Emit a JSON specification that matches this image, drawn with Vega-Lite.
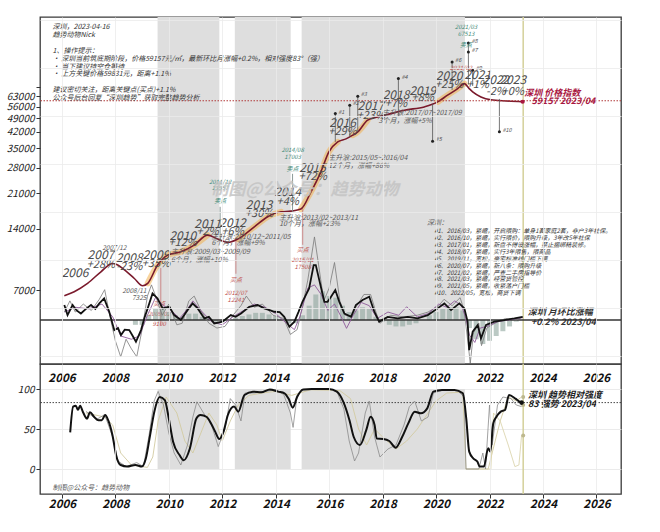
{
"$schema": "https://vega.github.io/schema/vega-lite/v6.json",
"padding": {"left": 5, "top": 15, "right": 5, "bottom": 5},
"background": "white",
"config": {
  "font": "Noto Sans CJK SC",
  "view": {"stroke": "#3a3a3a", "strokeWidth": 1.3},
  "axis": {"labelFont": "Noto Sans CJK SC", "gridColor": "#e6e6e6", "gridWidth": 0.8}
},
"datasets": {
  "bands": [{"t":2009.58,"t2":2011.89},{"t":2012.47,"t2":2014.56},{"t":2014.97,"t2":2021.08}],
  "price": [
    {"t":2006.09,"p":6560},{"t":2006.46,"p":6870},{"t":2006.96,"p":7550},{"t":2007.46,"p":8610},{"t":2007.9,"p":9460},{"t":2008.05,"p":9350},{"t":2008.27,"p":8940},{"t":2008.71,"p":7980},{"t":2009.02,"p":7350},{"t":2009.21,"p":7550},{"t":2009.58,"p":9290},{"t":2009.96,"p":10400},{"t":2010.45,"p":10800},{"t":2010.95,"p":11650},{"t":2011.45,"p":13050},{"t":2011.83,"p":12470},{"t":2012.2,"p":12010},{"t":2012.58,"p":12470},{"t":2013.2,"p":14330},{"t":2013.7,"p":16060},{"t":2014.2,"p":16990},{"t":2014.57,"p":17120},{"t":2014.94,"p":17520},{"t":2015.32,"p":21310},{"t":2015.69,"p":26730},{"t":2015.99,"p":33520},{"t":2016.32,"p":37540},{"t":2016.63,"p":38830},{"t":2016.88,"p":40500},{"t":2017.07,"p":42050},{"t":2017.44,"p":48010},{"t":2017.82,"p":49840},{"t":2018.31,"p":51720},{"t":2018.81,"p":53750},{"t":2019.56,"p":55800},{"t":2020.06,"p":59050},{"t":2020.43,"p":63730},{"t":2020.81,"p":68660},{"t":2021.06,"p":72680},{"t":2021.24,"p":68660},{"t":2021.37,"p":66150},{"t":2021.68,"p":62500},{"t":2022.06,"p":60500},{"t":2022.62,"p":59700},{"t":2023.24,"p":59157}
  ],
  "hl": [
    {"seg":"A","t":2009.21,"p":7550},{"seg":"A","t":2009.58,"p":9290},{"seg":"A","t":2009.96,"p":10400},{"seg":"A","t":2010.45,"p":10800},{"seg":"A","t":2010.95,"p":11650},{"seg":"A","t":2011.45,"p":13050},
    {"seg":"B","t":2012.58,"p":12470},{"seg":"B","t":2013.2,"p":14330},{"seg":"B","t":2013.7,"p":16060},{"seg":"B","t":2014.2,"p":16990},
    {"seg":"C","t":2014.94,"p":17520},{"seg":"C","t":2015.32,"p":21310},{"seg":"C","t":2015.69,"p":26730},{"seg":"C","t":2015.99,"p":33520},{"seg":"C","t":2016.32,"p":37540},
    {"seg":"D","t":2016.88,"p":40500},{"seg":"D","t":2017.07,"p":42050},{"seg":"D","t":2017.44,"p":48010},
    {"seg":"E","t":2020.06,"p":59050},{"seg":"E","t":2020.43,"p":63730},{"seg":"E","t":2020.81,"p":68660},{"seg":"E","t":2021.06,"p":72680}
  ],
  "sig": [
    {"t":2011.92,"p":17980,"p2":12100,"kind":"sell"},
    {"t":2014.63,"p":26130,"p2":16990,"kind":"sell"},
    {"t":2012.51,"p":12200,"p2":8420,"kind":"buy"},
    {"t":2015.01,"p":17500,"p2":11690,"kind":"buy"},
    {"t":2009.7,"p":9000,"p2":4700,"kind":"buy"}
  ],
  "pol": [
    {"t":2016.23,"p":51720,"p2":37550,"lab":"#1"},
    {"t":2016.77,"p":56900,"p2":39730,"lab":"#2"},
    {"t":2017.07,"p":63000,"p2":42050,"lab":"#3"},
    {"t":2018.59,"p":76900,"p2":50060,"lab":"#4"},
    {"t":2019.87,"p":37840,"p2":57740,"lab":"#5"},
    {"t":2020.6,"p":92900,"p2":67650,"lab":"#6"},
    {"t":2021.21,"p":104100,"p2":72000,"lab":"#7"},
    {"t":2021.21,"p":115200,"p2":104100,"lab":"#8"},
    {"t":2021.37,"p":84600,"p2":70720,"lab":"#9"},
    {"t":2022.37,"p":42050,"p2":61100,"lab":"#10"}
  ],
  "ann": [
    {"t":2006.49,"p":8450,"txt":"2006","k":"yr"},
    {"t":2007.46,"p":10400,"txt":"2007","k":"yr"},
    {"t":2008.52,"p":10090,"txt":"2008","k":"yr"},
    {"t":2009.52,"p":10470,"txt":"2009","k":"yr"},
    {"t":2010.52,"p":12950,"txt":"2010","k":"yr"},
    {"t":2011.45,"p":14880,"txt":"2011","k":"yr"},
    {"t":2012.39,"p":15000,"txt":"2012","k":"yr"},
    {"t":2013.38,"p":18330,"txt":"2013","k":"yr"},
    {"t":2014.45,"p":21150,"txt":"2014","k":"yr"},
    {"t":2015.38,"p":27970,"txt":"2015","k":"yr"},
    {"t":2016.5,"p":46560,"txt":"2016","k":"yr"},
    {"t":2017.56,"p":56260,"txt":"2017","k":"yr"},
    {"t":2018.5,"p":63730,"txt":"2018","k":"yr"},
    {"t":2019.5,"p":66670,"txt":"2019","k":"yr"},
    {"t":2020.49,"p":79260,"txt":"2020","k":"yr"},
    {"t":2021.56,"p":80480,"txt":"2021","k":"yr"},
    {"t":2022.24,"p":75540,"txt":"2022","k":"yr"},
    {"t":2022.87,"p":75540,"txt":"2023","k":"yr"},
    {"t":2007.46,"p":9350,"txt":"+28%","k":"pct"},
    {"t":2008.52,"p":9040,"txt":"-23%","k":"pct"},
    {"t":2009.52,"p":9390,"txt":"+35%","k":"pct"},
    {"t":2010.52,"p":11870,"txt":"+12%","k":"pct"},
    {"t":2011.45,"p":13540,"txt":"+2%","k":"pct"},
    {"t":2012.39,"p":13540,"txt":"+6%","k":"pct"},
    {"t":2013.38,"p":16560,"txt":"+30%","k":"pct"},
    {"t":2014.45,"p":19030,"txt":"+4%","k":"pct"},
    {"t":2015.38,"p":25260,"txt":"+72%","k":"pct"},
    {"t":2016.5,"p":42050,"txt":"+29%","k":"pct"},
    {"t":2017.56,"p":50390,"txt":"+23%","k":"pct"},
    {"t":2018.5,"p":57940,"txt":"+7%","k":"pct"},
    {"t":2019.5,"p":61610,"txt":"+8%","k":"pct"},
    {"t":2020.49,"p":71330,"txt":"+25%","k":"pct"},
    {"t":2021.56,"p":71330,"txt":"+1%","k":"pct"},
    {"t":2022.24,"p":66150,"txt":"-2%","k":"pct"},
    {"t":2022.87,"p":66150,"txt":"+0%","k":"pct"},
    {"t":2010.08,"p":10715,"txt":"主升浪:2009/03~2009/09","k":"note"},
    {"t":2010.08,"p":9835,"txt":"6个月，涨幅+10%","k":"note"},
    {"t":2011.6,"p":12810,"txt":"主升浪:2010/12~2011/05","k":"note"},
    {"t":2011.6,"p":11950,"txt":"6个月，涨幅+9%","k":"note"},
    {"t":2014.13,"p":15880,"txt":"主升浪:2013/02~2013/11","k":"note"},
    {"t":2014.13,"p":14780,"txt":"10个月，涨幅+23%","k":"note"},
    {"t":2015.97,"p":31420,"txt":"主升浪:2015/05~2016/04","k":"note"},
    {"t":2015.97,"p":28610,"txt":"12个月，涨幅+86%","k":"note"},
    {"t":2018.0,"p":52310,"txt":"主升浪:2017/07~2017/09","k":"note"},
    {"t":2017.85,"p":47610,"txt":"3个月，涨幅+5%","k":"note"},
    {"t":2019.66,"p":15050,"txt":"深圳：","k":"note"},
    {"t":2007.96,"p":11300,"txt":"2007/12","k":"notec"},
    {"t":2008.71,"p":6920,"txt":"2008/11","k":"notec"},
    {"t":2008.89,"p":6365,"txt":"7325","k":"notec"},
    {"t":2009.64,"p":5946,"txt":"买点","k":"red"},
    {"t":2009.64,"p":5310,"txt":"2009/02","k":"red"},
    {"t":2009.64,"p":4742,"txt":"9100","k":"red"},
    {"t":2012.51,"p":7840,"txt":"买点","k":"red"},
    {"t":2012.51,"p":6735,"txt":"2012/07","k":"red"},
    {"t":2012.51,"p":6250,"txt":"12241","k":"red"},
    {"t":2015.01,"p":11010,"txt":"买点","k":"red"},
    {"t":2015.01,"p":9835,"txt":"2015/01","k":"red"},
    {"t":2015.01,"p":9115,"txt":"17508","k":"red"},
    {"t":2020.93,"p":87100,"txt":"2021/02","k":"red"},
    {"t":2011.92,"p":23870,"txt":"2011/12","k":"green"},
    {"t":2011.92,"p":22380,"txt":"11957","k":"green"},
    {"t":2011.92,"p":19190,"txt":"卖点","k":"green"},
    {"t":2014.63,"p":34180,"txt":"2014/08","k":"green"},
    {"t":2014.63,"p":31680,"txt":"17003","k":"green"},
    {"t":2014.63,"p":27560,"txt":"卖点","k":"green"},
    {"t":2021.12,"p":138100,"txt":"2021/03","k":"green"},
    {"t":2021.12,"p":127200,"txt":"67513","k":"green"},
    {"t":2021.12,"p":112300,"txt":"卖点","k":"green"},
    {"t":2005.65,"p":138100,"txt":"深圳，2023-04-16","k":"blk1"},
    {"t":2005.65,"p":126200,"txt":"趋势动物Nick","k":"blk1"},
    {"t":2005.65,"p":105300,"txt":"1、操作提示：","k":"blk1"},
    {"t":2005.65,"p":96100,"txt":" • 深圳当前筑底期阶段，价格59157元/㎡，最新环比月涨幅+0.2%，相对强度83°（强）","k":"blk1"},
    {"t":2005.65,"p":88100,"txt":" • 当下建议持空仓等待","k":"blk1"},
    {"t":2005.65,"p":80800,"txt":" • 上方关键价格59831元，距离+1.1%","k":"blk1"},
    {"t":2005.65,"p":67440,"txt":"建议密切关注，距离关键点(买点)+1.1%","k":"blk1"},
    {"t":2005.65,"p":62000,"txt":"公众号后台回复“深圳趋势”获取完整趋势分析","k":"blk1"},
    {"t":2019.93,"p":14180,"txt":"#1、2016/03，紧缩，开启限购：单身1套家庭2套，非户3年社保。\n#2、2016/10，紧缩，实行限价，限购升级，3年改5年社保\n#3、2017/01，紧缩，新盘不得设涨幅，禁止捆绑精装修。\n#4、2018/07，紧缩，实行3年限售，限商品\n#5、2019/11，宽松，豪宅标准线门槛下调\n#6、2020/07，紧缩，新八条：限购升级\n#7、2021/02，紧缩，严查二手房指导价\n#8、2021/03，紧缩，经营贷管控\n#9、2021/05，紧缩，收紧落户门槛\n#10、2022/05，宽松，商贷下调","k":"blk2"},
    {"t":2023.3,"p":65630,"txt":"深圳 价格指数","k":"plab"},
    {"t":2023.57,"p":59750,"txt":"59157 2023/04","k":"plab"},
    {"t":2023.43,"p":5475,"txt":"深圳 月环比涨幅","k":"mlab"},
    {"t":2023.55,"p":4888,"txt":"+0.2% 2023/04","k":"mlab"},
    {"t":2015.09,"p":21800,"txt":"制图@公众号：趋势动物","k":"wm"}
  ],
  "mom": [
    {"s":"k","t":2006.09,"v":0.94},{"s":"k","t":2006.21,"v":0.31},{"s":"k","t":2006.4,"v":0.94},{"s":"k","t":2006.55,"v":0.6},{"s":"k","t":2006.71,"v":0.41},{"s":"k","t":2006.9,"v":0.7},{"s":"k","t":2007.09,"v":0.94},{"s":"k","t":2007.25,"v":0.7},{"s":"k","t":2007.4,"v":1.04},{"s":"k","t":2007.58,"v":1.35},{"s":"k","t":2007.77,"v":0.52},{"s":"k","t":2007.96,"v":-0.63},{"s":"k","t":2008.1,"v":-0.5},{"s":"k","t":2008.21,"v":-0.94},{"s":"k","t":2008.35,"v":-0.6},{"s":"k","t":2008.52,"v":-0.63},{"s":"k","t":2008.65,"v":-1.0},{"s":"k","t":2008.77,"v":-1.36},{"s":"k","t":2008.96,"v":-0.63},{"s":"k","t":2009.1,"v":0.2},{"s":"k","t":2009.21,"v":0.73},{"s":"k","t":2009.39,"v":1.66},{"s":"k","t":2009.58,"v":1.35},{"s":"k","t":2009.77,"v":0.73},{"s":"k","t":2010.02,"v":0.83},{"s":"k","t":2010.2,"v":0.31},{"s":"k","t":2010.45,"v":0},{"s":"k","t":2010.7,"v":0.62},{"s":"k","t":2010.89,"v":1.04},{"s":"k","t":2011.08,"v":0.73},{"s":"k","t":2011.33,"v":0.1},{"s":"k","t":2011.5,"v":0.2},{"s":"k","t":2011.7,"v":-0.21},{"s":"k","t":2012.01,"v":-0.1},{"s":"k","t":2012.32,"v":0.31},{"s":"k","t":2012.5,"v":0.2},{"s":"k","t":2012.7,"v":0.41},{"s":"k","t":2013.01,"v":0.83},{"s":"k","t":2013.32,"v":0.94},{"s":"k","t":2013.57,"v":0.73},{"s":"k","t":2013.8,"v":0.6},{"s":"k","t":2013.95,"v":0.52},{"s":"k","t":2014.15,"v":0.5},{"s":"k","t":2014.32,"v":0.2},{"s":"k","t":2014.51,"v":-0.42},{"s":"k","t":2014.7,"v":-0.1},{"s":"k","t":2014.85,"v":0.5},{"s":"k","t":2015.0,"v":1.14},{"s":"k","t":2015.25,"v":1.98},{"s":"k","t":2015.42,"v":3.44},{"s":"k","t":2015.5,"v":3.44},{"s":"k","t":2015.63,"v":2.5},{"s":"k","t":2015.82,"v":1.14},{"s":"k","t":2015.94,"v":1.14},{"s":"k","t":2016.07,"v":1.46},{"s":"k","t":2016.23,"v":1.88},{"s":"k","t":2016.38,"v":1.14},{"s":"k","t":2016.57,"v":0.41},{"s":"k","t":2016.82,"v":0.2},{"s":"k","t":2017.0,"v":0.94},{"s":"k","t":2017.25,"v":1.25},{"s":"k","t":2017.5,"v":1.46},{"s":"k","t":2017.69,"v":0.52},{"s":"k","t":2017.87,"v":-0.1},{"s":"k","t":2018.19,"v":0.2},{"s":"k","t":2018.56,"v":0.1},{"s":"k","t":2018.94,"v":0.2},{"s":"k","t":2019.31,"v":0.1},{"s":"k","t":2019.69,"v":0.31},{"s":"k","t":2020.06,"v":0.73},{"s":"k","t":2020.31,"v":1.04},{"s":"k","t":2020.56,"v":0.62},{"s":"k","t":2020.87,"v":1.04},{"s":"k","t":2021.06,"v":0.73},{"s":"k","t":2021.18,"v":-0.1},{"s":"k","t":2021.24,"v":-1.88},{"s":"k","t":2021.37,"v":-0.73},{"s":"k","t":2021.56,"v":-0.31},{"s":"k","t":2021.68,"v":-1.15},{"s":"k","t":2021.87,"v":-0.31},{"s":"k","t":2022.18,"v":-0.1},{"s":"k","t":2022.55,"v":0},{"s":"k","t":2022.93,"v":0.1},{"s":"k","t":2023.24,"v":0.2},
    {"s":"g","t":2006.09,"v":0.5},{"s":"g","t":2006.3,"v":1.2},{"s":"g","t":2006.5,"v":0.5},{"s":"g","t":2006.8,"v":1.0},{"s":"g","t":2007.1,"v":0.6},{"s":"g","t":2007.4,"v":1.3},{"s":"g","t":2007.6,"v":1.9},{"s":"g","t":2007.8,"v":0.2},{"s":"g","t":2008.0,"v":-1.3},{"s":"g","t":2008.2,"v":-2.3},{"s":"g","t":2008.4,"v":-1.2},{"s":"g","t":2008.6,"v":-1.8},{"s":"g","t":2008.8,"v":-2.3},{"s":"g","t":2009.0,"v":-0.6},{"s":"g","t":2009.2,"v":1.5},{"s":"g","t":2009.35,"v":2.2},{"s":"g","t":2009.55,"v":1.3},{"s":"g","t":2009.75,"v":0.3},{"s":"g","t":2010.0,"v":1.0},{"s":"g","t":2010.3,"v":-0.3},{"s":"g","t":2010.5,"v":-0.2},{"s":"g","t":2010.75,"v":1.2},{"s":"g","t":2010.95,"v":1.5},{"s":"g","t":2011.2,"v":0.6},{"s":"g","t":2011.5,"v":-0.2},{"s":"g","t":2011.8,"v":-0.5},{"s":"g","t":2012.1,"v":-0.4},{"s":"g","t":2012.4,"v":0.3},{"s":"g","t":2012.7,"v":0.9},{"s":"g","t":2012.9,"v":1.5},{"s":"g","t":2013.2,"v":0.8},{"s":"g","t":2013.5,"v":1.0},{"s":"g","t":2013.9,"v":0.3},{"s":"g","t":2014.3,"v":0.1},{"s":"g","t":2014.55,"v":-0.9},{"s":"g","t":2014.8,"v":-0.6},{"s":"g","t":2015.0,"v":0.8},{"s":"g","t":2015.2,"v":2.5},{"s":"g","t":2015.45,"v":5.2},{"s":"g","t":2015.6,"v":3.5},{"s":"g","t":2015.8,"v":1.2},{"s":"g","t":2016.0,"v":2.0},{"s":"g","t":2016.2,"v":3.6},{"s":"g","t":2016.4,"v":1.2},{"s":"g","t":2016.6,"v":0.3},{"s":"g","t":2016.85,"v":0.2},{"s":"g","t":2017.0,"v":0.8},{"s":"g","t":2017.3,"v":1.6},{"s":"g","t":2017.55,"v":1.6},{"s":"g","t":2017.75,"v":0.5},{"s":"g","t":2017.9,"v":-0.2},{"s":"g","t":2018.3,"v":0.3},{"s":"g","t":2018.8,"v":0.2},{"s":"g","t":2019.3,"v":0.3},{"s":"g","t":2019.7,"v":0.5},{"s":"g","t":2020.1,"v":0.9},{"s":"g","t":2020.3,"v":1.3},{"s":"g","t":2020.6,"v":0.9},{"s":"g","t":2020.9,"v":1.4},{"s":"g","t":2021.05,"v":0.6},{"s":"g","t":2021.2,"v":-1.5},{"s":"g","t":2021.28,"v":-2.7},{"s":"g","t":2021.4,"v":-0.8},{"s":"g","t":2021.6,"v":-0.2},{"s":"g","t":2021.7,"v":-1.6},{"s":"g","t":2021.9,"v":-0.5},{"s":"g","t":2022.2,"v":-0.2},{"s":"g","t":2022.6,"v":0.1},{"s":"g","t":2023.0,"v":0.0},{"s":"g","t":2023.24,"v":0.2},
    {"s":"p","t":2006.1,"v":0.5},{"s":"p","t":2006.5,"v":0.8},{"s":"p","t":2007.0,"v":0.7},{"s":"p","t":2007.5,"v":1.0},{"s":"p","t":2007.9,"v":0.2},{"s":"p","t":2008.2,"v":-1.0},{"s":"p","t":2008.6,"v":-1.2},{"s":"p","t":2008.9,"v":-1.0},{"s":"p","t":2009.2,"v":0.3},{"s":"p","t":2009.5,"v":1.4},{"s":"p","t":2009.8,"v":0.9},{"s":"p","t":2010.1,"v":0.6},{"s":"p","t":2010.4,"v":0.1},{"s":"p","t":2010.7,"v":0.7},{"s":"p","t":2010.9,"v":1.2},{"s":"p","t":2011.2,"v":0.6},{"s":"p","t":2011.6,"v":-0.1},{"s":"p","t":2012.0,"v":-0.3},{"s":"p","t":2012.4,"v":0.2},{"s":"p","t":2012.8,"v":0.6},{"s":"p","t":2013.2,"v":1.0},{"s":"p","t":2013.6,"v":0.8},{"s":"p","t":2014.0,"v":0.4},{"s":"p","t":2014.4,"v":-0.2},{"s":"p","t":2014.7,"v":-0.6},{"s":"p","t":2014.9,"v":0.2},{"s":"p","t":2015.2,"v":2.0},{"s":"p","t":2015.45,"v":2.2},{"s":"p","t":2015.7,"v":1.6},{"s":"p","t":2015.95,"v":0.6},{"s":"p","t":2016.2,"v":1.0},{"s":"p","t":2016.45,"v":0.2},{"s":"p","t":2016.65,"v":-0.52},{"s":"p","t":2016.9,"v":0.3},{"s":"p","t":2017.2,"v":1.1},{"s":"p","t":2017.5,"v":0.9},{"s":"p","t":2017.8,"v":0.1},{"s":"p","t":2018.2,"v":0.5},{"s":"p","t":2018.6,"v":0.3},{"s":"p","t":2018.9,"v":0.83},{"s":"p","t":2019.3,"v":0.2},{"s":"p","t":2019.7,"v":0.4},{"s":"p","t":2020.1,"v":1.0},{"s":"p","t":2020.4,"v":0.8},{"s":"p","t":2020.7,"v":1.2},{"s":"p","t":2020.95,"v":0.9},{"s":"p","t":2021.1,"v":0.2},{"s":"p","t":2021.25,"v":-0.94},{"s":"p","t":2021.45,"v":-1.4},{"s":"p","t":2021.65,"v":-0.5},{"s":"p","t":2021.9,"v":-0.4},{"s":"p","t":2022.3,"v":-0.1},{"s":"p","t":2022.7,"v":0.0},{"s":"p","t":2023.24,"v":0.15}
  ],
  "bars": [
    {"t":2008.75,"v":-0.3},{"t":2009.0,"v":-0.3},{"t":2009.25,"v":0.3},{"t":2009.5,"v":0.7},{"t":2009.75,"v":0.7},{"t":2010.0,"v":0.5},{"t":2010.25,"v":0.3},{"t":2010.5,"v":0.2},{"t":2010.75,"v":0.4},{"t":2011.0,"v":0.4},{"t":2011.25,"v":0.2},{"t":2011.5,"v":0.1},{"t":2011.75,"v":-0.1},{"t":2012.0,"v":-0.1},{"t":2012.25,"v":0.0},{"t":2012.5,"v":0.15},{"t":2012.75,"v":0.25},{"t":2013.0,"v":0.35},{"t":2013.25,"v":0.45},{"t":2013.5,"v":0.45},{"t":2013.75,"v":0.35},{"t":2014.0,"v":0.25},{"t":2014.25,"v":0.1},{"t":2014.5,"v":-0.2},{"t":2014.75,"v":-0.2},{"t":2015.0,"v":0.3},{"t":2015.25,"v":0.9},{"t":2015.5,"v":1.6},{"t":2015.75,"v":1.8},{"t":2016.0,"v":1.5},{"t":2016.25,"v":1.4},{"t":2016.5,"v":0.9},{"t":2016.75,"v":0.5},{"t":2017.0,"v":0.6},{"t":2017.25,"v":0.8},{"t":2017.5,"v":0.7},{"t":2017.75,"v":0.2},{"t":2018.0,"v":-0.1},{"t":2018.25,"v":-0.3},{"t":2018.5,"v":-0.4},{"t":2018.75,"v":-0.4},{"t":2019.0,"v":-0.3},{"t":2019.25,"v":-0.2},{"t":2019.5,"v":0.0},{"t":2019.75,"v":0.3},{"t":2020.0,"v":0.5},{"t":2020.25,"v":0.7},{"t":2020.5,"v":0.8},{"t":2020.75,"v":0.8},{"t":2021.0,"v":0.6},{"t":2021.25,"v":-0.5},{"t":2021.5,"v":-1.2},{"t":2021.75,"v":-1.5},{"t":2022.0,"v":-1.3},{"t":2022.25,"v":-1.0},{"t":2022.5,"v":-0.7},{"t":2022.75,"v":-0.4},{"t":2023.0,"v":-0.1}
  ],
  "rs": [
    {"s":"k","t":2006.31,"v":45.8},{"s":"k","t":2006.42,"v":78},{"s":"k","t":2006.52,"v":79},{"s":"k","t":2006.6,"v":74},{"s":"k","t":2006.68,"v":79},{"s":"k","t":2006.79,"v":71},{"s":"k","t":2006.94,"v":63},{"s":"k","t":2007.05,"v":71},{"s":"k","t":2007.21,"v":65},{"s":"k","t":2007.37,"v":61},{"s":"k","t":2007.49,"v":61},{"s":"k","t":2007.62,"v":67.5},{"s":"k","t":2007.73,"v":61},{"s":"k","t":2007.89,"v":42.5},{"s":"k","t":2008.04,"v":15.4},{"s":"k","t":2008.2,"v":5},{"s":"k","t":2008.44,"v":3},{"s":"k","t":2008.75,"v":5},{"s":"k","t":2008.99,"v":3},{"s":"k","t":2009.14,"v":13},{"s":"k","t":2009.3,"v":42.5},{"s":"k","t":2009.46,"v":72},{"s":"k","t":2009.66,"v":90},{"s":"k","t":2009.85,"v":86},{"s":"k","t":2010.0,"v":63},{"s":"k","t":2010.16,"v":34},{"s":"k","t":2010.4,"v":17.5},{"s":"k","t":2010.56,"v":11},{"s":"k","t":2010.79,"v":26},{"s":"k","t":2011.03,"v":63},{"s":"k","t":2011.18,"v":67.5},{"s":"k","t":2011.42,"v":65},{"s":"k","t":2011.58,"v":57},{"s":"k","t":2011.73,"v":47},{"s":"k","t":2011.89,"v":37.5},{"s":"k","t":2012.05,"v":47},{"s":"k","t":2012.21,"v":67.5},{"s":"k","t":2012.44,"v":78},{"s":"k","t":2012.6,"v":71.7},{"s":"k","t":2012.83,"v":92.5},{"s":"k","t":2013.15,"v":96.7},{"s":"k","t":2013.46,"v":96},{"s":"k","t":2013.78,"v":99.5},{"s":"k","t":2014.09,"v":96.7},{"s":"k","t":2014.33,"v":94.6},{"s":"k","t":2014.48,"v":88},{"s":"k","t":2014.64,"v":76.7},{"s":"k","t":2014.8,"v":90},{"s":"k","t":2015.03,"v":99.5},{"s":"k","t":2015.35,"v":100},{"s":"k","t":2015.98,"v":100},{"s":"k","t":2016.29,"v":96.7},{"s":"k","t":2016.53,"v":84},{"s":"k","t":2016.76,"v":61},{"s":"k","t":2016.92,"v":40},{"s":"k","t":2017.15,"v":30},{"s":"k","t":2017.39,"v":49},{"s":"k","t":2017.55,"v":65.4},{"s":"k","t":2017.7,"v":55},{"s":"k","t":2017.78,"v":38},{"s":"k","t":2018.02,"v":37.5},{"s":"k","t":2018.25,"v":35},{"s":"k","t":2018.49,"v":26.7},{"s":"k","t":2018.73,"v":40},{"s":"k","t":2018.96,"v":57},{"s":"k","t":2019.2,"v":71.7},{"s":"k","t":2019.43,"v":69.6},{"s":"k","t":2019.67,"v":75.8},{"s":"k","t":2019.9,"v":96.7},{"s":"k","t":2020.22,"v":98.8},{"s":"k","t":2020.69,"v":98.8},{"s":"k","t":2021.0,"v":94.6},{"s":"k","t":2021.13,"v":63},{"s":"k","t":2021.24,"v":21.7},{"s":"k","t":2021.4,"v":13},{"s":"k","t":2021.55,"v":9},{"s":"k","t":2021.63,"v":3},{"s":"k","t":2021.79,"v":3},{"s":"k","t":2021.95,"v":26},{"s":"k","t":2022.03,"v":21.7},{"s":"k","t":2022.14,"v":57},{"s":"k","t":2022.26,"v":65.4},{"s":"k","t":2022.42,"v":71.7},{"s":"k","t":2022.58,"v":73.8},{"s":"k","t":2022.73,"v":92.5},{"s":"k","t":2022.97,"v":88},{"s":"k","t":2023.13,"v":84},{"s":"k","t":2023.2,"v":83},
    {"s":"g","t":2006.9,"v":72},{"s":"g","t":2007.3,"v":62},{"s":"g","t":2007.6,"v":68},{"s":"g","t":2007.9,"v":40},{"s":"g","t":2008.1,"v":10},{"s":"g","t":2008.4,"v":3},{"s":"g","t":2008.8,"v":8},{"s":"g","t":2009.05,"v":3},{"s":"g","t":2009.25,"v":40},{"s":"g","t":2009.45,"v":85},{"s":"g","t":2009.6,"v":97},{"s":"g","t":2009.8,"v":80},{"s":"g","t":2010.0,"v":45},{"s":"g","t":2010.2,"v":20},{"s":"g","t":2010.45,"v":5},{"s":"g","t":2010.7,"v":30},{"s":"g","t":2010.9,"v":65},{"s":"g","t":2011.05,"v":84},{"s":"g","t":2011.3,"v":70},{"s":"g","t":2011.6,"v":55},{"s":"g","t":2011.85,"v":28},{"s":"g","t":2012.1,"v":50},{"s":"g","t":2012.3,"v":88},{"s":"g","t":2012.5,"v":80},{"s":"g","t":2012.7,"v":60},{"s":"g","t":2012.85,"v":95},{"s":"g","t":2013.2,"v":95},{"s":"g","t":2013.6,"v":97},{"s":"g","t":2014.0,"v":99},{"s":"g","t":2014.3,"v":93},{"s":"g","t":2014.55,"v":70},{"s":"g","t":2014.65,"v":52},{"s":"g","t":2014.8,"v":92},{"s":"g","t":2015.0,"v":99},{"s":"g","t":2016.0,"v":100},{"s":"g","t":2016.3,"v":96},{"s":"g","t":2016.55,"v":75},{"s":"g","t":2016.75,"v":35},{"s":"g","t":2016.95,"v":10},{"s":"g","t":2017.1,"v":20},{"s":"g","t":2017.35,"v":70},{"s":"g","t":2017.5,"v":85},{"s":"g","t":2017.7,"v":40},{"s":"g","t":2017.9,"v":15},{"s":"g","t":2018.2,"v":25},{"s":"g","t":2018.5,"v":30},{"s":"g","t":2018.8,"v":55},{"s":"g","t":2019.0,"v":78},{"s":"g","t":2019.2,"v":85},{"s":"g","t":2019.45,"v":60},{"s":"g","t":2019.7,"v":65},{"s":"g","t":2019.9,"v":95},{"s":"g","t":2020.3,"v":99},{"s":"g","t":2020.8,"v":98},{"s":"g","t":2021.05,"v":90},{"s":"g","t":2021.12,"v":0},{"s":"g","t":2021.6,"v":0},{"s":"g","t":2021.75,"v":20},{"s":"g","t":2021.85,"v":0},{"s":"g","t":2022.0,"v":80},{"s":"g","t":2022.1,"v":30},{"s":"g","t":2022.3,"v":80},{"s":"g","t":2022.5,"v":90},{"s":"g","t":2022.8,"v":88},{"s":"g","t":2023.0,"v":80},{"s":"g","t":2023.2,"v":78},
    {"s":"b1","t":2006.9,"v":70},{"s":"b1","t":2007.6,"v":65},{"s":"b1","t":2007.9,"v":55},{"s":"b1","t":2008.2,"v":20},{"s":"b1","t":2008.6,"v":5},{"s":"b1","t":2009.2,"v":2},{"s":"b1","t":2009.4,"v":15},{"s":"b1","t":2009.6,"v":60},{"s":"b1","t":2009.9,"v":90},{"s":"b1","t":2010.3,"v":70},{"s":"b1","t":2010.6,"v":35},{"s":"b1","t":2010.9,"v":20},{"s":"b1","t":2011.2,"v":45},{"s":"b1","t":2011.5,"v":70},{"s":"b1","t":2011.8,"v":55},{"s":"b1","t":2012.0,"v":35},{"s":"b1","t":2012.3,"v":60},{"s":"b1","t":2012.6,"v":80},{"s":"b1","t":2013.0,"v":92},{"s":"b1","t":2013.5,"v":95},{"s":"b1","t":2014.0,"v":97},{"s":"b1","t":2014.6,"v":92},{"s":"b1","t":2014.9,"v":95},{"s":"b1","t":2015.3,"v":99},{"s":"b1","t":2016.4,"v":98},{"s":"b1","t":2016.8,"v":88},{"s":"b1","t":2017.1,"v":50},{"s":"b1","t":2017.4,"v":30},{"s":"b1","t":2017.7,"v":50},{"s":"b1","t":2018.0,"v":40},{"s":"b1","t":2018.5,"v":25},{"s":"b1","t":2018.9,"v":35},{"s":"b1","t":2019.3,"v":50},{"s":"b1","t":2019.7,"v":70},{"s":"b1","t":2020.0,"v":85},{"s":"b1","t":2020.4,"v":95},{"s":"b1","t":2021.0,"v":96},{"s":"b1","t":2021.12,"v":0},{"s":"b1","t":2021.95,"v":0},{"s":"b1","t":2022.1,"v":20},{"s":"b1","t":2022.4,"v":60},{"s":"b1","t":2022.7,"v":90},{"s":"b1","t":2023.0,"v":85},{"s":"b1","t":2023.2,"v":90},
    {"s":"b2","t":2021.1,"v":0},{"s":"b2","t":2022.05,"v":0},{"s":"b2","t":2022.15,"v":70},{"s":"b2","t":2022.4,"v":60},{"s":"b2","t":2022.7,"v":30},{"s":"b2","t":2022.95,"v":3},{"s":"b2","t":2023.1,"v":5},{"s":"b2","t":2023.2,"v":42}
  ],
  "yrs": [{"t":2006,"txt":"2006"},{"t":2008,"txt":"2008"},{"t":2010,"txt":"2010"},{"t":2012,"txt":"2012"},{"t":2014,"txt":"2014"},{"t":2016,"txt":"2016"},{"t":2018,"txt":"2018"},{"t":2020,"txt":"2020"},{"t":2022,"txt":"2022"},{"t":2024,"txt":"2024"},{"t":2026,"txt":"2026"}]
},
"spacing": 0,
"bounds": "flush",
"vconcat": [
{
  "width": 581,
  "height": 347,
  "resolve": {"scale": {"y": "independent"}, "axis": {"y": "independent"}},
  "layer": [
  {
    "layer": [
      {"data": {"name": "bands"}, "mark": {"type": "rect", "color": "#dedede"},
       "encoding": {
         "x": {"field": "t", "type": "quantitative", "scale": {"domain": [2005.18, 2026.92], "nice": false, "zero": false},
               "axis": {"values": [2006,2007,2008,2009,2010,2011,2012,2013,2014,2015,2016,2017,2018,2019,2020,2021,2022,2023,2024,2025,2026], "labels": false, "ticks": false, "domain": false, "title": null, "grid": true, "gridColor": "#ebebeb", "zindex": 1, "minExtent": 0, "maxExtent": 0}},
         "x2": {"field": "t2"}}},
      {"data": {"name": "hl"}, "mark": {"type": "line", "color": "#f2b04f", "strokeWidth": 6, "opacity": 0.55, "strokeCap": "round", "interpolate": "monotone"},
       "encoding": {"x": {"field": "t", "type": "quantitative"},
         "y": {"field": "p", "type": "quantitative", "scale": {"type": "log", "domain": [3027, 154600], "nice": false}},
         "detail": {"field": "seg"}}},
      {"data": {"name": "price"}, "mark": {"type": "line", "color": "#7a1a2c", "strokeWidth": 1.6, "interpolate": "monotone"},
       "encoding": {"x": {"field": "t", "type": "quantitative"},
         "y": {"field": "p", "type": "quantitative", "scale": {"type": "log", "domain": [3027, 154600], "nice": false},
               "axis": {"values": [7000,14000,21000,28000,35000,42000,49000,56000,63000,70000], "format": "d", "title": null, "grid": false, "domain": false, "tickSize": 4, "tickColor": "#333", "labelFontSize": 10, "labelFontStyle": "italic", "labelColor": "#222", "labelPadding": 2, "minExtent": 34, "maxExtent": 34}}}},
      {"data": {"values": [{}]}, "mark": {"type": "rule", "color": "#b03a3a", "strokeDash": [1.5, 1.5], "strokeWidth": 1},
       "encoding": {"y": {"datum": 59831, "type": "quantitative"}}},
      {"data": {"values": [{}]}, "mark": {"type": "rule", "color": "#d4d09a", "strokeWidth": 1.5},
       "encoding": {"x": {"datum": 2023.26, "type": "quantitative"}}},
      {"data": {"name": "sig"}, "mark": {"type": "rule", "strokeWidth": 0.9},
       "encoding": {"x": {"field": "t", "type": "quantitative"}, "y": {"field": "p", "type": "quantitative"}, "y2": {"field": "p2"},
         "color": {"field": "kind", "type": "nominal", "scale": {"domain": ["sell", "buy"], "range": ["#7f8f8c", "#c98080"]}, "legend": null}}},
      {"data": {"name": "pol"}, "mark": {"type": "rule", "color": "#555", "strokeWidth": 0.8},
       "encoding": {"x": {"field": "t", "type": "quantitative"}, "y": {"field": "p", "type": "quantitative"}, "y2": {"field": "p2"}}},
      {"data": {"name": "pol"}, "mark": {"type": "point", "filled": true, "color": "#222", "size": 9, "opacity": 1},
       "encoding": {"x": {"field": "t", "type": "quantitative"}, "y": {"field": "p", "type": "quantitative"}}},
      {"data": {"name": "pol"}, "mark": {"type": "text", "fontSize": 5.5, "fontStyle": "italic", "color": "#555", "align": "left", "dx": 3, "dy": -2},
       "encoding": {"x": {"field": "t", "type": "quantitative"}, "y": {"field": "p", "type": "quantitative"}, "text": {"field": "lab"}}},
      {"data": {"name": "ann"}, "transform": [{"filter": "datum.k == 'yr'"}],
       "mark": {"type": "text", "fontSize": 12, "fontStyle": "italic", "color": "#4d4d4d", "align": "center", "baseline": "middle"},
       "encoding": {"x": {"field": "t", "type": "quantitative"}, "y": {"field": "p", "type": "quantitative"}, "text": {"field": "txt"}}},
      {"data": {"name": "ann"}, "transform": [{"filter": "datum.k == 'pct'"}],
       "mark": {"type": "text", "fontSize": 11, "fontStyle": "italic", "color": "#4d4d4d", "align": "center", "baseline": "middle"},
       "encoding": {"x": {"field": "t", "type": "quantitative"}, "y": {"field": "p", "type": "quantitative"}, "text": {"field": "txt"}}},
      {"data": {"name": "ann"}, "transform": [{"filter": "datum.k == 'note'"}],
       "mark": {"type": "text", "fontSize": 7, "fontStyle": "italic", "color": "#5a5a5a", "align": "left", "baseline": "middle"},
       "encoding": {"x": {"field": "t", "type": "quantitative"}, "y": {"field": "p", "type": "quantitative"}, "text": {"field": "txt"}}},
      {"data": {"name": "ann"}, "transform": [{"filter": "datum.k == 'notec'"}],
       "mark": {"type": "text", "fontSize": 6.5, "fontStyle": "italic", "color": "#5a5a5a", "align": "center", "baseline": "middle"},
       "encoding": {"x": {"field": "t", "type": "quantitative"}, "y": {"field": "p", "type": "quantitative"}, "text": {"field": "txt"}}},
      {"data": {"name": "ann"}, "transform": [{"filter": "datum.k == 'red'"}],
       "mark": {"type": "text", "fontSize": 6, "fontStyle": "italic", "color": "#c0504d", "align": "center", "baseline": "middle"},
       "encoding": {"x": {"field": "t", "type": "quantitative"}, "y": {"field": "p", "type": "quantitative"}, "text": {"field": "txt"}}},
      {"data": {"name": "ann"}, "transform": [{"filter": "datum.k == 'green'"}],
       "mark": {"type": "text", "fontSize": 6, "fontStyle": "italic", "color": "#3f8a78", "align": "center", "baseline": "middle"},
       "encoding": {"x": {"field": "t", "type": "quantitative"}, "y": {"field": "p", "type": "quantitative"}, "text": {"field": "txt"}}},
      {"data": {"name": "ann"}, "transform": [{"filter": "datum.k == 'blk1'"}],
       "mark": {"type": "text", "fontSize": 7, "fontStyle": "italic", "color": "#333", "align": "left", "baseline": "middle"},
       "encoding": {"x": {"field": "t", "type": "quantitative"}, "y": {"field": "p", "type": "quantitative"}, "text": {"field": "txt"}}},
      {"data": {"name": "ann"}, "transform": [{"filter": "datum.k == 'blk2'"}],
       "mark": {"type": "text", "fontSize": 6, "fontStyle": "italic", "color": "#333", "align": "left", "baseline": "top", "lineBreak": "\n", "lineHeight": 6.96},
       "encoding": {"x": {"field": "t", "type": "quantitative"}, "y": {"field": "p", "type": "quantitative"}, "text": {"field": "txt"}}},
      {"data": {"name": "ann"}, "transform": [{"filter": "datum.k == 'plab'"}],
       "mark": {"type": "text", "fontSize": 9, "fontStyle": "italic", "fontWeight": "bold", "color": "#a8163f", "align": "left", "baseline": "middle"},
       "encoding": {"x": {"field": "t", "type": "quantitative"}, "y": {"field": "p", "type": "quantitative"}, "text": {"field": "txt"}}},
      {"data": {"name": "ann"}, "transform": [{"filter": "datum.k == 'mlab'"}],
       "mark": {"type": "text", "fontSize": 9, "fontStyle": "italic", "fontWeight": "bold", "color": "#333", "align": "left", "baseline": "middle"},
       "encoding": {"x": {"field": "t", "type": "quantitative"}, "y": {"field": "p", "type": "quantitative"}, "text": {"field": "txt"}}},
      {"data": {"name": "ann"}, "transform": [{"filter": "datum.k == 'wm'"}],
       "mark": {"type": "text", "fontSize": 17, "fontStyle": "italic", "fontWeight": "bold", "color": "#c4c4c4", "opacity": 0.85, "align": "center", "baseline": "middle"},
       "encoding": {"x": {"field": "t", "type": "quantitative"}, "y": {"field": "p", "type": "quantitative"}, "text": {"field": "txt"}}},
      {"data": {"values": [{"t": 2023.24, "p": 59157}]}, "mark": {"type": "point", "filled": true, "color": "#a8163f", "size": 18, "opacity": 1},
       "encoding": {"x": {"field": "t", "type": "quantitative"}, "y": {"field": "p", "type": "quantitative"}}}
    ]
  },
  {
    "layer": [
      {"data": {"name": "bars"}, "mark": {"type": "rule", "color": "#8ea59c", "strokeWidth": 5, "opacity": 0.6},
       "encoding": {"x": {"field": "t", "type": "quantitative"},
         "y": {"field": "v", "type": "quantitative", "scale": {"domain": [-2.75, 18.96], "nice": false, "zero": false},
               "axis": {"orient": "right", "values": [-2.25,-1.5,-0.75,0,0.75,1.5,2.25,3,3.75,4.5,5.25,6,6.75,7.5,8.25,9,9.75,10.5,11.25,12,12.75,13.5,14.25,15,15.75,16.5,17.25,18,18.75], "labels": false, "ticks": false, "domain": false, "title": null, "grid": true, "gridColor": "#ebebeb", "zindex": 1, "minExtent": 0, "maxExtent": 0}},
         "y2": {"datum": 0}}},
      {"data": {"values": [{}]}, "mark": {"type": "rule", "color": "#333", "strokeWidth": 1.6},
       "encoding": {"y": {"datum": 0, "type": "quantitative"}}},
      {"data": {"name": "mom"}, "transform": [{"filter": "datum.s == 'g'"}], "mark": {"type": "line", "color": "#7a7a7a", "strokeWidth": 0.8, "clip": true},
       "encoding": {"x": {"field": "t", "type": "quantitative"}, "y": {"field": "v", "type": "quantitative"}}},
      {"data": {"name": "mom"}, "transform": [{"filter": "datum.s == 'p'"}], "mark": {"type": "line", "color": "#8e5a9a", "strokeWidth": 0.9, "clip": true},
       "encoding": {"x": {"field": "t", "type": "quantitative"}, "y": {"field": "v", "type": "quantitative"}}},
      {"data": {"name": "mom"}, "transform": [{"filter": "datum.s == 'k'"}], "mark": {"type": "line", "color": "#111", "strokeWidth": 1.8, "clip": true},
       "encoding": {"x": {"field": "t", "type": "quantitative"}, "y": {"field": "v", "type": "quantitative"}}}
    ]
  }
  ]
},
{
  "width": 581,
  "height": 130,
  "layer": [
    {"data": {"name": "bands"}, "mark": {"type": "rect", "color": "#dedede"},
     "encoding": {
       "x": {"field": "t", "type": "quantitative", "scale": {"domain": [2005.18, 2026.92], "nice": false, "zero": false},
             "axis": {"values": [2006,2007,2008,2009,2010,2011,2012,2013,2014,2015,2016,2017,2018,2019,2020,2021,2022,2023,2024,2025,2026], "format": "d", "labelExpr": "datum.value % 2 == 0 ? datum.label : ''", "title": null, "grid": true, "gridColor": "#ebebeb", "zindex": 1, "domain": false, "tickSize": 4, "tickColor": "#333", "labelFontSize": 11.5, "labelFontWeight": "bold", "labelFontStyle": "italic", "labelColor": "#111", "labelPadding": 0}},
       "x2": {"field": "t2"},
       "y": {"datum": 0, "type": "quantitative"},
       "y2": {"datum": 100}}},
    {"data": {"values": [{}]}, "mark": {"type": "rule", "color": "#333", "strokeDash": [1.5, 1.5], "strokeWidth": 0.9},
     "encoding": {"y": {"datum": 83, "type": "quantitative"}}},
    {"data": {"name": "rs"}, "transform": [{"filter": "datum.s == 'b1'"}], "mark": {"type": "line", "color": "#d2cba2", "strokeWidth": 0.9},
     "encoding": {"x": {"field": "t", "type": "quantitative"}, "y": {"field": "v", "type": "quantitative"}}},
    {"data": {"name": "rs"}, "transform": [{"filter": "datum.s == 'b2'"}], "mark": {"type": "line", "color": "#dcd6b0", "strokeWidth": 0.9},
     "encoding": {"x": {"field": "t", "type": "quantitative"}, "y": {"field": "v", "type": "quantitative"}}},
    {"data": {"name": "rs"}, "transform": [{"filter": "datum.s == 'g'"}], "mark": {"type": "line", "color": "#8a8a8a", "strokeWidth": 0.8},
     "encoding": {"x": {"field": "t", "type": "quantitative"}, "y": {"field": "v", "type": "quantitative"}}},
    {"data": {"name": "rs"}, "transform": [{"filter": "datum.s == 'k'"}], "mark": {"type": "line", "color": "#111", "strokeWidth": 2, "interpolate": "monotone"},
     "encoding": {"x": {"field": "t", "type": "quantitative"},
       "y": {"field": "v", "type": "quantitative", "scale": {"domain": [-31.25, 131.25], "nice": false, "zero": false},
             "axis": {"values": [0, 25, 50, 75, 100], "labelExpr": "datum.value % 50 == 0 ? datum.label : ''", "title": null, "grid": true, "gridColor": "#e6e6e6", "domain": false, "tickSize": 4, "tickColor": "#333", "labelFontSize": 10, "labelFontStyle": "italic", "labelColor": "#222", "labelPadding": 2, "minExtent": 34, "maxExtent": 34}}}},
    {"data": {"values": [{}]}, "mark": {"type": "rule", "color": "#d4d09a", "strokeWidth": 1.5},
     "encoding": {"x": {"datum": 2023.26, "type": "quantitative"}}},
    {"data": {"values": [{"t": 2023.26, "v": 90}, {"t": 2023.26, "v": 80}, {"t": 2023.26, "v": 42}]}, "mark": {"type": "point", "filled": true, "color": "#bdb88e", "size": 16, "opacity": 1},
     "encoding": {"x": {"field": "t", "type": "quantitative"}, "y": {"field": "v", "type": "quantitative"}}},
    {"data": {"values": [{"t": 2023.2, "v": 83}]}, "mark": {"type": "point", "filled": true, "color": "#111", "size": 22, "opacity": 1},
     "encoding": {"x": {"field": "t", "type": "quantitative"}, "y": {"field": "v", "type": "quantitative"}}},
    {"data": {"name": "yrs"}, "mark": {"type": "text", "fontSize": 11.5, "fontWeight": "bold", "fontStyle": "italic", "color": "#111", "align": "center", "baseline": "middle"},
     "encoding": {"x": {"field": "t", "type": "quantitative"}, "y": {"datum": 112, "type": "quantitative"}, "text": {"field": "txt"}}},
    {"data": {"values": [{"t": 2023.44, "v": 92.5, "txt": "深圳 趋势相对强度"}, {"t": 2023.44, "v": 80.8, "txt": "83 强势 2023/04"}]},
     "mark": {"type": "text", "fontSize": 9, "fontWeight": "bold", "fontStyle": "italic", "color": "#222", "align": "left", "baseline": "middle"},
     "encoding": {"x": {"field": "t", "type": "quantitative"}, "y": {"field": "v", "type": "quantitative"}, "text": {"field": "txt"}}},
    {"data": {"values": [{"t": 2005.65, "v": -24.25, "txt": "制图@公众号：趋势动物"}]},
     "mark": {"type": "text", "fontSize": 7, "fontStyle": "italic", "color": "#555", "align": "left", "baseline": "middle"},
     "encoding": {"x": {"field": "t", "type": "quantitative"}, "y": {"field": "v", "type": "quantitative"}, "text": {"field": "txt"}}}
  ]
}
]
}
